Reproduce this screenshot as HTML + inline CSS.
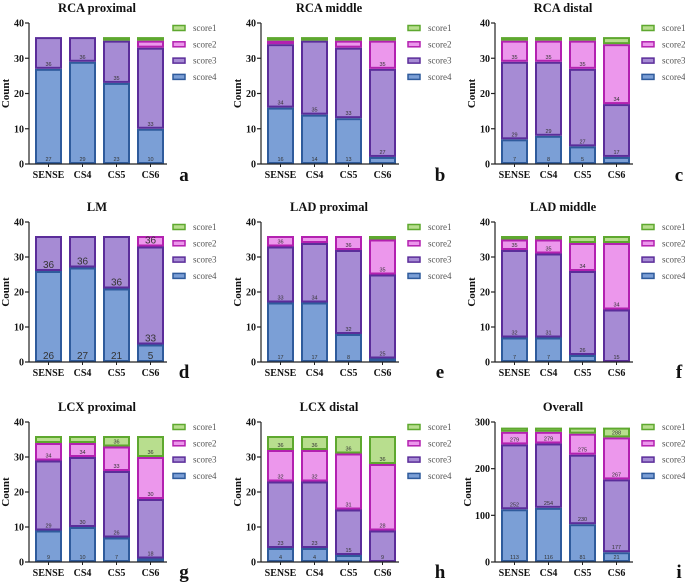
<!DOCTYPE html>
<html><head><meta charset="utf-8"><style>
html,body{margin:0;padding:0;background:#fff;}
svg{display:block;font-family:"Liberation Serif",serif;}
</style></head><body>
<svg id="fig" width="685" height="586" viewBox="0 0 685 586"></svg>
<script>
const categories = ["SENSE","CS4","CS5","CS6"];
const titles = ["RCA proximal","RCA middle","RCA distal","LM","LAD proximal","LAD middle","LCX proximal","LCX distal","Overall"];
const letters = ["a","b","c","d","e","f","g","h","i"];
const seriesNames = ["score1","score2","score3","score4"];
// cumulative tops: score4, score3, score2, score1 per category
const rcaProximal = [[27,36,36,36],[29,36,36,36],[23,35,35,36],[10,33,35,36]];
const rcaMiddle   = [[16,34,35,36],[14,35,35,36],[13,33,35,36],[2,27,35,36]];
const rcaDistal   = [[7,29,35,36],[8,29,35,36],[5,27,35,36],[2,17,34,36]];
const lm          = [[26,36,36,36],[27,36,36,36],[21,36,36,36],[5,33,36,36]];
const ladProximal = [[17,33,36,36],[17,34,36,36],[8,32,36,36],[1,25,35,36]];
const ladMiddle   = [[7,32,35,36],[7,31,35,36],[2,26,34,36],[0,15,34,36]];
const lcxProximal = [[9,29,34,36],[10,30,34,36],[7,26,33,36],[1,18,30,36]];
const lcxDistal   = [[4,23,32,36],[4,23,32,36],[2,15,31,36],[0,9,28,36]];
const overall     = [[113,252,279,288],[116,254,279,288],[81,230,275,288],[21,177,267,288]];
const yMaxes = [40,40,40,40,40,40,40,40,300];
const yTickLabels = [["0","10","20","30","40"],["0","100","200","300"]];
const panelsData = [rcaProximal,rcaMiddle,rcaDistal,lm,ladProximal,ladMiddle,lcxProximal,lcxDistal,overall];

const fills = ["#7b9fd6","#a68bd4","#ec97ec","#b8de8e"];
const strokes = ["#2f5b9c","#5b2d9a","#b321b0","#5ea82f"];
const colX = [29,261,495], rowTop=[23,222,422], rowBot=[164,362,562];
const letterX=[184,440,679], letterY=[181,378,578];
const NS="http://www.w3.org/2000/svg";
const svg=document.getElementById('fig');
function mk(tag,attrs,parent){const e=document.createElementNS(NS,tag);for(const k in attrs)e.setAttribute(k,attrs[k]);(parent||svg).appendChild(e);return e;}

panelsData.forEach((data,p)=>{
  const c=p%3,r=Math.floor(p/3);
  const ax=colX[c],top=rowTop[r],bot=rowBot[r],ymax=yMaxes[p];
  const g=mk('g',{});
  
  
  const y=v=>bot-(v/ymax)*(bot-top);
  const x=i=>ax+6+i*34;
  const bw=27;
  const t=mk('text',{x:ax+68,y:top-11,'text-anchor':'middle','font-size':12.5,'font-weight':'bold',fill:'#111'},g);
  t.textContent=titles[p];
  
  
  // bars
  data.forEach((cum,i)=>{
    let prev=0;
    const total=cum[3];
    for(let s=0;s<4;s++){
      const v=cum[s];
      if(v>prev){
        const rc=mk('rect',{x:x(i)+1,y:y(v)+1,width:bw-2,height:Math.max(0,y(prev)-y(v)-2),fill:fills[s],stroke:strokes[s],'stroke-width':2},g);
        
        
        if(v-prev>=0.07*total){
          const big=(p===3);
          const lb=mk('text',{x:x(i)+bw/2,y:y(prev)-(big?3:3),'text-anchor':'middle','font-size':big?10:5.5,'font-family':'Liberation Sans, sans-serif',fill:'#333'},g);
          lb.textContent=v;
          
          
        }
      }
      prev=v;
    }
  });
  // axes
  const ya=mk('line',{x1:ax,y1:top,x2:ax,y2:bot,stroke:'#222','stroke-width':1.2},g);
  
  
  const xa=mk('line',{x1:ax,y1:bot,x2:x(3)+bw+3,y2:bot,stroke:'#222','stroke-width':1.2},g);
  
  
  const tl=ymax===300?yTickLabels[1]:yTickLabels[0];
  tl.forEach(s=>{
    const v=+s;
    mk('line',{x1:ax-4,y1:y(v),x2:ax,y2:y(v),stroke:'#222','stroke-width':1.2},g);
    const tt=mk('text',{x:ax-5,y:y(v)+3.5,'text-anchor':'end','font-size':10,'font-weight':'bold',fill:'#111'},g);
    tt.textContent=s;
    
    
  });
  categories.forEach((cName,i)=>{
    mk('line',{x1:x(i)+bw/2,y1:bot,x2:x(i)+bw/2,y2:bot+3,stroke:'#222','stroke-width':1},g);
    const ct=mk('text',{x:x(i)+bw/2,y:bot+14,'text-anchor':'middle','font-size':10,'font-weight':'bold',fill:'#111'},g);
    ct.textContent=cName;
    
    
  });
  const yl=mk('text',{x:0,y:0,'text-anchor':'middle','font-size':11,'font-weight':'bold',fill:'#111',transform:`translate(${ax-(ymax===300?24:20)},${(top+bot)/2}) rotate(-90)`},g);
  yl.textContent='Count';
  
  
  // legend
  seriesNames.forEach((n,k)=>{
    const si=3-k;
    const ly=top+5+k*16.3;
    const lx=ax+(c===0?144:c===1?147:147);
    const sw=mk('rect',{x:lx,y:ly-2.5,width:12,height:5,fill:fills[si],stroke:strokes[si],'stroke-width':1.5},g);
    
    
    const lt=mk('text',{x:lx+20,y:ly+3,'font-size':9,fill:'#555'},g);
    lt.textContent=n;
    
    
  });
  const L=mk('text',{x:letterX[c],y:letterY[r],'text-anchor':'middle','font-size':19,'font-weight':'bold',fill:'#111'},g);
  L.textContent=letters[p];
  
  
});
</script>
</body></html>
